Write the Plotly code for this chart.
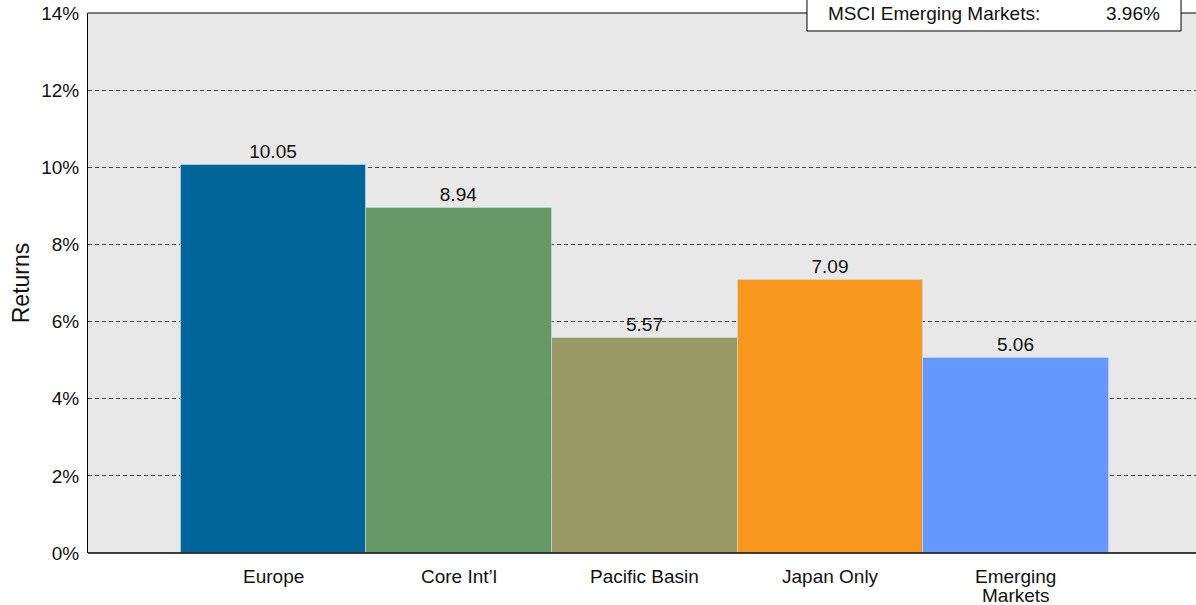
import plotly.graph_objects as go

categories = ["Europe", "Core Int\u2019l", "Pacific Basin", "Japan Only", "Emerging<br>Markets"]
returns = [10.05, 8.94, 5.57, 7.09, 5.06]
colors = ["#006699", "#669966", "#999966", "#F7971E", "#6699FF"]
benchmark_label = "MSCI Emerging Markets:"
benchmark_value = "3.96%"
y_ticks = [0, 2, 4, 6, 8, 10, 12, 14]

FONT = "Liberation Sans, Arial, sans-serif"
FS = 19

fig = go.Figure()
fig.add_trace(go.Bar(
    x=list(range(len(categories))),
    y=returns,
    width=1,
    marker=dict(color=colors, line=dict(color="rgba(200,220,230,0.6)", width=1)),
    text=[f"{v:.2f}" for v in returns],
    textposition="outside",
    textfont=dict(size=FS, color="#111", family=FONT),
    cliponaxis=False,
))

fig.update_layout(
    width=1196, height=605,
    margin=dict(l=88, r=0, t=13, b=52),
    paper_bgcolor="white",
    plot_bgcolor="#e8e8e8",
    bargap=0,
    showlegend=False,
    font=dict(family=FONT, color="#111"),
    xaxis=dict(
        range=[-1, 4.97],
        tickmode="array",
        tickvals=list(range(len(categories))),
        ticktext=[""] * len(categories),
        showgrid=False,
        zeroline=False,
        showline=False,
        ticks="",
    ),
    yaxis=dict(
        range=[0, 14],
        tickvals=y_ticks,
        ticktext=[f"{t}%" for t in y_ticks],
        tickfont=dict(size=FS),
        showgrid=True,
        gridcolor="#444",
        griddash="4px,3px",
        gridwidth=1,
        zeroline=False,
        showline=True,
        linecolor="black",
        linewidth=1,
        ticks="",
        ticklen=0,
        ticklabelstandoff=4,
        title=dict(text="Returns", font=dict(size=23), standoff=5),
    ),
)

# category labels (multi-line with tight spacing)
for i, cat in enumerate(categories):
    for j, line in enumerate(cat.split("<br>")):
        fig.add_annotation(x=i, xref="x", y=0, yref="paper", text=line, showarrow=False,
                           xanchor="center", yanchor="middle", yshift=-23 - 19 * j,
                           font=dict(size=FS))

# bottom axis line and top border
fig.add_shape(type="line", xref="paper", yref="paper", x0=0, x1=1, y0=0, y1=0,
              line=dict(color="black", width=1.5))
fig.add_shape(type="line", xref="paper", yref="paper", x0=0, x1=1, y0=1, y1=1,
              line=dict(color="black", width=1))

# benchmark box
fig.add_shape(type="rect", xref="paper", yref="paper", x0=0.6489, x1=0.9865, y0=0.9667, y1=1.05,
              line=dict(color="black", width=1), fillcolor="white", layer="above")
fig.add_annotation(xref="paper", yref="paper", x=0.666, y=1.0, text=benchmark_label,
                   showarrow=False, xanchor="left", yanchor="middle", font=dict(size=FS))
fig.add_annotation(xref="paper", yref="paper", x=0.969, y=1.0, text=benchmark_value,
                   showarrow=False, xanchor="right", yanchor="middle", font=dict(size=FS))

fig.write_html("out.html")
